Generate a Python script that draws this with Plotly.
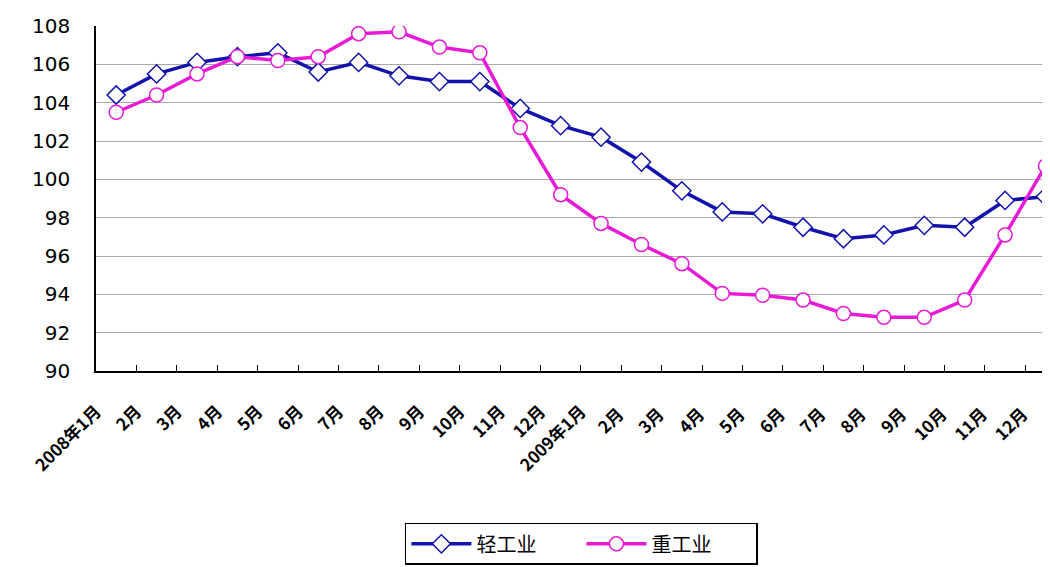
import plotly.graph_objects as go

categories = ["2008年1月", "2月", "3月", "4月", "5月", "6月", "7月", "8月", "9月", "10月", "11月", "12月",
              "2009年1月", "2月 ", "3月 ", "4月 ", "5月 ", "6月 ", "7月 ", "8月 ", "9月 ", "10月 ", "11月 ", "12月 "]

light_industry = [104.4, 105.5, 106.1, 106.4, 106.6, 105.6, 106.1, 105.4, 105.1, 105.1, 103.7, 102.8,
                  102.2, 100.9, 99.4, 98.3, 98.2, 97.5, 96.9, 97.1, 97.6, 97.5, 98.9, 99.1]
heavy_industry = [103.5, 104.4, 105.5, 106.4, 106.2, 106.4, 107.6, 107.7, 106.9, 106.6, 102.7, 99.2,
                  97.7, 96.6, 95.6, 94.05, 93.95, 93.7, 93.0, 92.8, 92.8, 93.7, 97.1, 100.7]

y_ticks = [90, 92, 94, 96, 98, 100, 102, 104, 106, 108]

fig = go.Figure()
fig.add_trace(go.Scatter(
    x=categories, y=light_industry, name="轻工业", mode="lines+markers",
    line=dict(color="#1212AC", width=3.5),
    marker=dict(symbol="diamond", size=14, color="white", line=dict(color="#1212AC", width=1.5)),
))
fig.add_trace(go.Scatter(
    x=categories, y=heavy_industry, name="重工业", mode="lines+markers",
    line=dict(color="#E81AD6", width=3.5),
    marker=dict(symbol="circle", size=14, color="white", line=dict(color="#E81AD6", width=1.5)),
))

fig.update_layout(
    width=1050, height=567,
    margin=dict(l=88, r=0, t=18, b=204),
    paper_bgcolor="white", plot_bgcolor="white",
    showlegend=True,
    legend=dict(orientation="h", xref="container", yref="container",
                x=0.378, xanchor="left", y=0.092, yanchor="top",
                bordercolor="black", borderwidth=1.5,
                font=dict(family="Noto Sans CJK SC", size=20, color="black"),
                itemwidth=60, entrywidth=100, entrywidthmode="pixels"),
    xaxis=dict(
        type="category", range=[-0.5, 23.31],
        showline=True, linecolor="black", linewidth=1.5,
        ticks="inside", ticklen=6, tickcolor="black", tickson="boundaries",
        tickangle=-45, showgrid=False,
        tickfont=dict(family="Noto Sans CJK SC", size=17, color="black", weight="bold"),
        ticklabelstandoff=22, ticklabelshift=-20,
    ),
    yaxis=dict(
        range=[90, 108], tickvals=y_ticks,
        showline=True, linecolor="black", linewidth=1.5,
        showgrid=True, gridcolor="#A8A8A8", gridwidth=1,
        ticks="", zeroline=False,
        tickfont=dict(family="DejaVu Sans", size=20, color="black"),
        ticklabelstandoff=20,
    ),
)

fig.write_html("out.html")
